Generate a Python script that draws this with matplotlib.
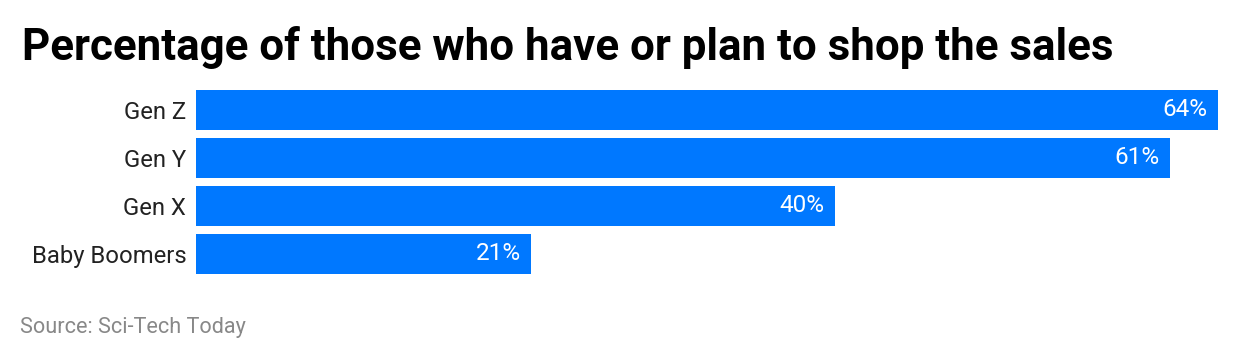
import matplotlib.pyplot as plt

plt.rcParams['font.family'] = ['Roboto', 'DejaVu Sans']

categories = ['Gen Z', 'Gen Y', 'Gen X', 'Baby Boomers']
values = [64, 61, 40, 21]
value_labels = ['64%', '61%', '40%', '21%']

bar_color = '#0078FF'
bar_h = 40 / 48

fig = plt.figure(figsize=(12.4, 3.6), dpi=100)
ax = fig.add_axes([196 / 1240, 1 - 274 / 360, (1218 - 196) / 1240, 184 / 360])

ypos = list(range(len(categories)))
ax.barh(ypos, values, height=bar_h, color=bar_color)
ax.set_xlim(0, 64)
ax.set_ylim(len(categories) - 1 + bar_h / 2, -bar_h / 2)

for y, v, lab in zip(ypos, values, value_labels):
    ax.annotate(lab, (v, y), xytext=(-7.5, 0), textcoords='offset points',
                ha='right', va='center', color='white', fontsize=17.5)

ax.set_yticks(ypos)
ax.set_yticklabels(categories, fontsize=17.2, color='#222222')
ax.tick_params(axis='y', length=0, pad=7)
ax.set_xticks([])
for s in ax.spines.values():
    s.set_visible(False)

fig.text(22 / 1240, 1 - 60 / 360, 'Percentage of those who have or plan to shop the sales',
         fontsize=31.6, fontweight='bold', color='black', ha='left', va='baseline')
fig.text(20 / 1240, 1 - 333 / 360, 'Source: Sci-Tech Today',
         fontsize=15.6, color='#888888', ha='left', va='baseline')

fig.savefig('out.png', dpi=100)
